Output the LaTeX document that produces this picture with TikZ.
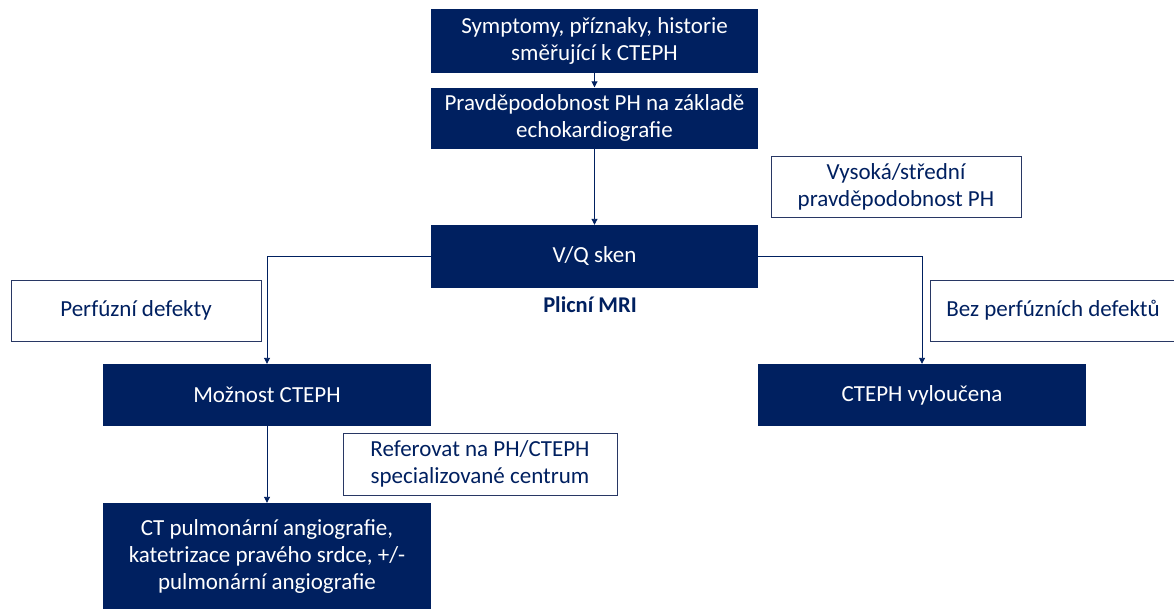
\documentclass[tikz,border=0pt]{standalone}
\usepackage{fontspec}
\setmainfont{Carlito}
\usetikzlibrary{arrows.meta}
\definecolor{navy}{RGB}{0,32,96}
\definecolor{labborder}{RGB}{40,55,100}
\begin{document}
\begin{tikzpicture}[x=1pt,y=-1pt,
  dark/.style={fill=navy, text=white, align=center, inner sep=0pt, font=\fontsize{23}{27}\selectfont},
  lab/.style={draw=labborder, line width=0.8pt, fill=white, text=navy, align=center, inner sep=0pt, font=\fontsize{23}{27}\selectfont},
  arr/.style={draw=navy, line width=0.9pt, -{Triangle[width=6pt,length=6pt]}}]
\useasboundingbox[fill=white] (0,0) rectangle (1174,608);
\node[dark, minimum width=327pt, minimum height=64pt] (b1) at (594.5,41) {Symptomy, příznaky, historie\\směřující k CTEPH};
\node[dark, minimum width=327pt, minimum height=61pt] (b2) at (594.5,118) {Pravděpodobnost PH na základě\\echokardiografie};
\node[dark, minimum width=327pt, minimum height=63pt] (vq) at (594.5,256.5) {V/Q sken};
\node[lab, minimum width=250pt, minimum height=61pt] (vys) at (896,186.5) {Vysoká/střední\\pravděpodobnost PH};
\node[text=navy, inner sep=0pt, font=\fontsize{22.5}{24}\selectfont\bfseries] (mri) at (590,305) {Plicní MRI};
\node[lab, minimum width=250pt, minimum height=61pt] (perf) at (136,310.5) {Perfúzní defekty};
\node[lab, minimum width=246pt, minimum height=61pt] (bez) at (1053,310.5) {Bez perfúzních defektů};
\node[dark, minimum width=328pt, minimum height=62pt] (mozn) at (267,395) {Možnost CTEPH};
\node[dark, minimum width=328pt, minimum height=62pt] (vylo) at (922,395) {CTEPH vyloučena};
\node[lab, minimum width=274pt, minimum height=62pt] (ref) at (480,464) {Referovat na PH/CTEPH\\specializované centrum};
\node[dark, minimum width=328pt, minimum height=106pt] (ct) at (267,556) {CT pulmonární angiografie,\\katetrizace pravého srdce, +/-\\pulmonární angiografie};
\draw[arr] (b1) -- (b2);
\draw[arr] (b2) -- (vq);
\draw[arr] (vq.west) -| (mozn.north);
\draw[arr] (vq.east) -| (vylo.north);
\draw[arr] (mozn) -- (ct);
\end{tikzpicture}
\end{document}
